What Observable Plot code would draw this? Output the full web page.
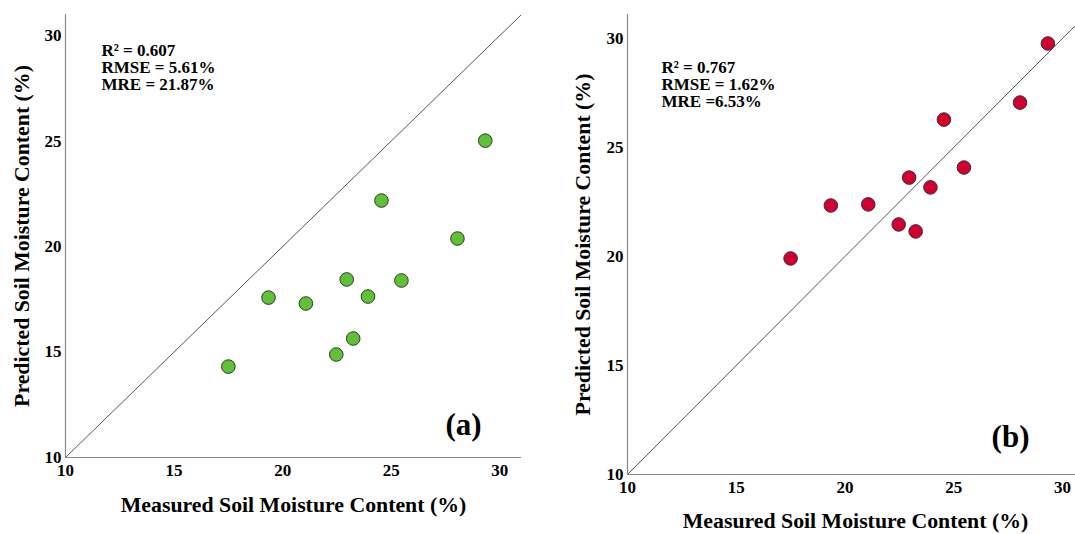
<!DOCTYPE html>
<html>
<head>
<meta charset="utf-8">
<script src="https://cdn.jsdelivr.net/npm/d3@7"></script>
<script src="https://cdn.jsdelivr.net/npm/@observablehq/plot@0.6"></script>
<style>
  html, body { margin: 0; padding: 0; background: #fff; }
  #wrap { position: relative; width: 1075px; height: 534px; overflow: hidden; }
  #left { position: absolute; left: 0; top: 0; }
  #right { position: absolute; left: 560px; top: 0; }
</style>
</head>
<body>
<div id="wrap"><div id="left"></div><div id="right"></div></div>
<script>
// Data
const measured = [17.5, 19.35, 21.07, 22.47, 22.95, 23.25, 23.93, 24.55, 25.47, 28.05, 29.33];
const predictedA = [14.31, 17.58, 17.30, 14.88, 18.44, 15.64, 17.63, 22.18, 18.39, 20.38, 25.02];
const predictedB = [19.91, 22.34, 22.39, 21.47, 23.62, 21.15, 23.17, 26.28, 24.08, 27.06, 29.77];
const tickValues = [10, 15, 20, 25, 30];
const statsA = ["R² = 0.607", "RMSE = 5.61%", "MRE = 21.87%"];
const statsB = ["R² = 0.767", "RMSE = 1.62%", "MRE =6.53%"];
const identity = [10, 31.2];
const xLabel = "Measured Soil Moisture Content (%)";
const yLabel = "Predicted Soil Moisture Content (%)";

const font = "'Liberation Serif', 'Times New Roman', serif";

function panel({preds, stats, tag, color, width, height, mLeft, mRight, mTop, mBottom, xMax, yMax, tagDx, tagDy, statDx, statDy, xLabOff, xLabDx, yLabOff}) {
  const pts = measured.map((m, i) => ({m, p: preds[i]}));
  const diag = identity.map(v => ({m: v, p: v}));
  return Plot.plot({
    width, height,
    marginLeft: mLeft, marginRight: mRight, marginTop: mTop, marginBottom: mBottom,
    style: {fontFamily: font, fontWeight: "bold", fontSize: "17px", color: "#000", background: "#fff", overflow: "visible"},
    x: {domain: [10, xMax]},
    y: {domain: [10, yMax]},
    marks: [
      Plot.line(diag, {x: "m", y: "p", stroke: "#555", strokeWidth: 1, clip: true}),
      Plot.dot(pts, {x: "m", y: "p", r: 6.8, fill: color, stroke: "#333", strokeWidth: 1}),
      Plot.axisX({ticks: tickValues, tickSize: 0, tickPadding: 6, fontSize: 17, fontWeight: "bold",
        label: null}),
      Plot.axisY({ticks: tickValues, tickSize: 0, tickPadding: 4, fontSize: 17, fontWeight: "bold",
        label: null}),
      Plot.ruleX([10], {stroke: "#888", strokeWidth: 1.2}),
      Plot.ruleY([10], {stroke: "#888", strokeWidth: 1.2}),
      Plot.text([xLabel], {frameAnchor: "bottom", dx: xLabDx, dy: xLabOff, text: d => d, textAnchor: "middle", fontSize: 21.8, fontWeight: "bold", lineAnchor: "middle"}),
      Plot.text([yLabel], {frameAnchor: "left", dx: -yLabOff, text: d => d, textAnchor: "middle", rotate: -90, fontSize: 21.8, fontWeight: "bold", lineAnchor: "middle"}),
      Plot.text([stats.join("\n")], {frameAnchor: "top-left", dx: statDx, dy: statDy, text: d => d, textAnchor: "start", lineAnchor: "top", lineHeight: 1.0, fontSize: 17, fontWeight: "bold"}),
      Plot.text([tag], {frameAnchor: "bottom-right", dx: tagDx, dy: tagDy, text: d => d, textAnchor: "middle", fontSize: 31, fontWeight: "bold", lineAnchor: "middle"})
    ]
  });
}

document.getElementById("left").appendChild(panel({
  preds: predictedA, stats: statsA, tag: "(a)", color: "#5fc234",
  width: 540, height: 534, mLeft: 65, mRight: 19, mTop: 14, mBottom: 77,
  xMax: 31, yMax: 31, tagDx: -58, tagDy: -32, statDx: 36, statDy: 29, xLabOff: 48, xLabDx: 0, yLabOff: 43
}));
document.getElementById("right").appendChild(panel({
  preds: predictedB, stats: statsB, tag: "(b)", color: "#d10030",
  width: 515, height: 534, mLeft: 67, mRight: 0, mTop: 14, mBottom: 60,
  xMax: 30.6, yMax: 31.1, tagDx: -65, tagDy: -37, statDx: 34, statDy: 46, xLabOff: 47, xLabDx: 4, yLabOff: 44
}));
</script>
</body>
</html>
